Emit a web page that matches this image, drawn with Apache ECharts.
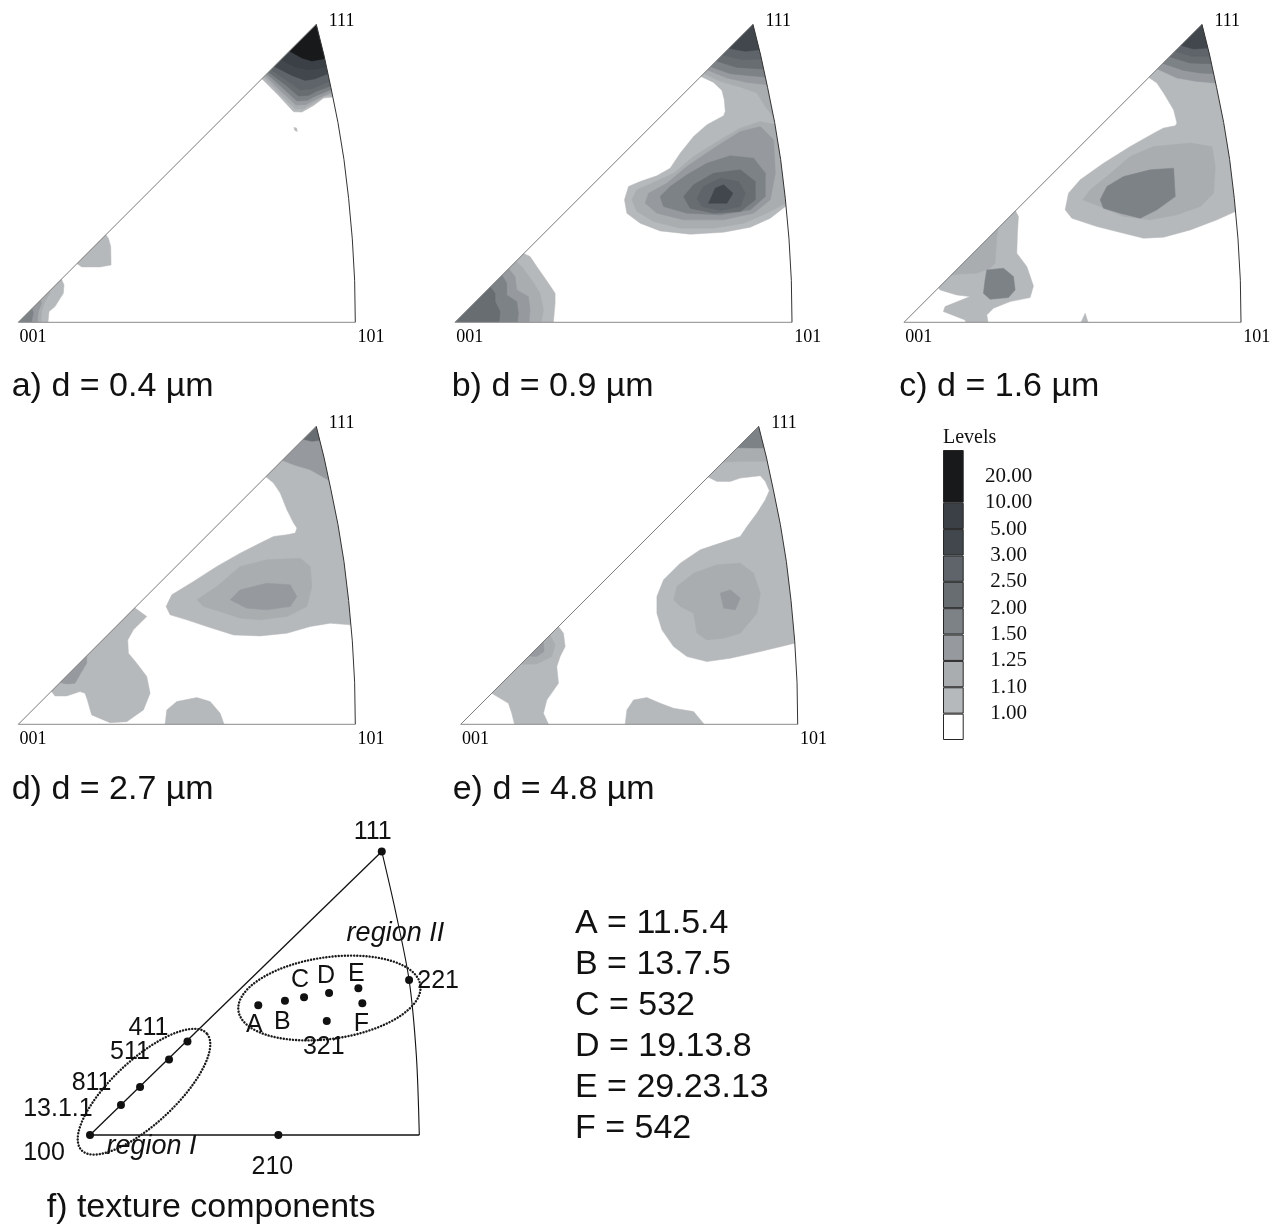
<!DOCTYPE html>
<html><head><meta charset="utf-8">
<script src="https://cdn.jsdelivr.net/npm/echarts@6/dist/echarts.min.js"></script>
<style>html,body{margin:0;padding:0;background:#fff}#c{width:1281px;height:1224px}</style>
</head><body><div id="c"></div>
<script>
// ---------------- DATA ----------------
// contour level boundaries (legend)
const levelBounds = ['1.00','1.10','1.25','1.50','2.00','2.50','3.00','5.00','10.00','20.00'];
// inverse pole figure frame, projected units (001 -> 101 = 1010)
const ipfCorners = [[0,0],[1010,0],[893,893]];
const ipfCornerLabels = ['001','101','111'];
const ipfArc = [[1010,0],[1008,126],[1001,250],[990,371],[976,488],[958,599],[937,703],[916,801],[893,893]];
const panelCaptions = ['a) d = 0.4 µm','b) d = 0.9 µm','c) d = 1.6 µm','d) d = 2.7 µm','e) d = 4.8 µm','f) texture components'];

// contour regions: [level index 1..9, polygon in projected units]
const contourA = [
  [1,[[715,745],[730,730],[780,680],[825,631],[850,630],[885,650],[915,672],[942,675],[975,675],[975,910],[880,910]]],
  [2,[[720,750],[735,735],[785,683],[830,640],[855,640],[890,660],[918,678],[941,682],[975,682],[975,910],[880,910]]],
  [3,[[725,755],[740,740],[790,690],[832,651],[860,652],[892,668],[940,690],[975,690],[975,910],[880,910]]],
  [4,[[730,760],[745,745],[795,700],[835,663],[865,665],[895,680],[938,698],[975,698],[975,910],[880,910]]],
  [5,[[735,765],[750,750],[800,712],[840,678],[870,680],[895,693],[936,708],[975,708],[975,910],[880,910]]],
  [6,[[742,772],[757,757],[805,725],[845,696],[880,700],[900,708],[933,722],[975,722],[975,910],[880,910]]],
  [7,[[752,782],[767,767],[820,740],[860,725],[890,730],[928,745],[975,745],[975,910],[880,910]]],
  [8,[[772,802],[787,787],[830,765],[870,757],[900,760],[922,768],[975,768],[975,910],[880,910]]],
  [9,[[798,828],[813,813],[850,792],[880,783],[917,790],[975,790],[975,910],[880,910]]],
  [1,[[826,584],[834,582],[836,572],[829,575]]],
  [1,[[170,180],[255,272],[270,252],[277,227],[278,172],[245,166],[190,166]]],
  [1,[[-10,0],[125,140],[137,112],[135,87],[110,47],[92,32],[87,-20],[-10,-20]]],
  [2,[[-10,0],[90,105],[95,87],[80,62],[70,32],[67,-20],[-10,-20]]],
  [3,[[-10,0],[62,77],[70,57],[60,32],[55,-20],[-10,-20]]],
  [4,[[-10,0],[38,53],[45,27],[35,-20],[-10,-20]]]
];
const contourB = [
  [1,[[722,752],[737,737],[775,719],[800,695],[807,667],[810,632],[805,619],[755,592],[715,557],[675,507],[645,462],[605,439],[555,422],[520,407],[508,367],[515,327],[555,297],[615,274],[705,264],[805,270],[885,285],[945,312],[990,347],[1030,347],[1030,910],[880,910]]],
  [2,[[731,761],[746,746],[795,722],[855,705],[905,687],[930,647],[953,617],[980,617],[980,910],[880,910]]],
  [3,[[741,771],[756,756],[815,732],[875,719],[935,712],[975,712],[975,910],[880,910]]],
  [4,[[751,781],[766,766],[825,745],[885,739],[930,735],[975,735],[975,910],[880,910]]],
  [5,[[768,798],[783,783],[845,764],[924,759],[975,759],[975,910],[880,910]]],
  [6,[[786,816],[801,801],[860,787],[918,789],[975,789],[975,910],[880,910]]],
  [7,[[806,836],[821,821],[870,812],[912,817],[975,817],[975,910],[880,910]]],
  [2,[[1030,592],[962,592],[915,602],[855,582],[795,547],[715,497],[655,447],[595,419],[545,397],[530,367],[545,332],[595,302],[675,282],[775,282],[865,297],[935,327],[990,357],[1030,357]]],
  [3,[[915,587],[955,547],[960,447],[945,367],[895,327],[805,307],[685,307],[605,327],[570,357],[580,387],[635,417],[695,467],[775,522],[855,572]]],
  [4,[[615,377],[645,407],[695,442],[755,477],[825,499],[895,492],[930,447],[930,377],[885,337],[795,322],[695,327],[625,347]]],
  [5,[[685,377],[715,412],[775,447],[855,457],[900,422],[900,367],[855,332],[775,327],[705,342]]],
  [6,[[725,372],[745,407],[795,432],[850,422],[870,387],[855,347],[795,335],[740,347]]],
  [7,[[760,357],[780,402],[805,412],[833,387],[815,357]]],
  [1,[[190,222],[206,206],[225,197],[245,167],[280,117],[300,87],[300,57],[293,-20],[-10,-20],[-10,0]]],
  [2,[[168,196],[182,182],[200,167],[230,127],[255,87],[265,37],[255,-20],[-10,-20],[-10,0]]],
  [3,[[148,174],[161,161],[180,137],[185,97],[220,77],[225,37],[220,-20],[-10,-20],[-10,0]]],
  [4,[[128,154],[141,141],[155,117],[155,82],[185,62],[190,27],[185,-20],[-10,-20],[-10,0]]],
  [5,[[93,119],[106,106],[120,87],[120,62],[135,32],[130,-20],[-10,-20],[-10,0]]]
];
const contourC = [
  [1,[[719,749],[734,734],[758,717],[778,687],[808,637],[818,597],[813,589],[778,582],[758,572],[678,527],[598,477],[528,427],[493,387],[483,337],[503,312],[578,287],[658,267],[718,252],[778,255],[858,277],[938,307],[993,332],[1030,332],[1030,910],[880,910]]],
  [3,[[744,774],[759,759],[818,732],[878,722],[934,717],[975,717],[975,910],[880,910]]],
  [4,[[761,791],[776,776],[838,755],[888,747],[928,745],[975,745],[975,910],[880,910]]],
  [5,[[781,811],[796,796],[858,777],[920,775],[975,775],[975,910],[880,910]]],
  [6,[[797,827],[812,812],[863,797],[915,797],[975,797],[975,910],[880,910]]],
  [7,[[815,845],[830,830],[868,819],[909,822],[975,822],[975,910],[880,910]]],
  [2,[[536,367],[558,397],[608,437],[678,497],[748,527],[858,537],[923,527],[933,467],[928,387],[888,347],[818,322],[738,307],[658,317],[588,347]]],
  [4,[[588,367],[608,407],[658,437],[738,457],[808,462],[813,377],[758,337],[708,312],[648,327],[598,342]]],
  [1,[[320,350],[334,334],[343,317],[340,267],[338,207],[368,167],[388,109],[378,74],[318,62],[268,42],[248,22],[256,-20],[193,-20],[183,7],[118,32],[123,47],[198,77],[158,82],[108,97],[95,115]]],
  [2,[[270,296],[283,283],[278,257],[273,177],[258,162],[218,147],[168,145],[141,141],[128,154]]],
  [4,[[248,157],[298,162],[328,137],[333,97],[313,74],[258,69],[238,87],[243,127]]],
  [1,[[526,-10],[543,27],[555,-10]]]
];
const contourD = [
  [1,[[727,757],[742,742],[765,723],[785,693],[805,643],[825,603],[835,588],[830,573],[805,568],[765,563],[725,543],[665,513],[595,473],[525,428],[460,388],[443,353],[455,328],[505,313],[565,293],[645,268],[725,265],[805,273],[875,293],[935,303],[996,298],[1030,298],[1030,910],[880,910]]],
  [3,[[776,806],[791,791],[825,778],[875,763],[928,733],[975,733],[975,910],[880,910]]],
  [5,[[840,869],[854,854],[880,848],[903,851],[975,851],[975,910],[880,910]]],
  [2,[[535,373],[595,413],[665,473],[745,493],[845,498],[875,473],[880,413],[865,353],[805,323],[725,313],[665,318],[605,338],[555,353]]],
  [3,[[635,373],[665,403],[745,423],[815,418],[835,383],[815,353],[745,343],[685,348]]],
  [1,[[335,363],[349,349],[385,323],[345,283],[328,253],[330,213],[355,183],[385,143],[395,93],[375,43],[325,8],[275,5],[220,28],[207,73],[200,93],[185,98],[145,85],[110,85],[99,99],[85,113]]],
  [3,[[130,150],[205,212],[205,183],[187,153],[170,123],[145,121],[125,125]]],
  [1,[[438,-15],[440,0],[445,43],[475,68],[535,80],[575,68],[605,33],[622,-15]]]
];
const contourE = [
  [1,[[726,756],[741,741],[768,728],[808,728],[838,738],[898,745],[913,728],[925,700],[913,673],[888,633],[858,593],[838,563],[778,543],[718,523],[658,483],[608,433],[588,383],[588,333],[603,283],[638,233],[678,203],[738,188],[808,198],[898,218],[1001,243],[1040,243],[1040,910],[880,910]]],
  [2,[[770,800],[785,785],[838,788],[917,788],[975,788],[975,910],[880,910]]],
  [4,[[815,843],[829,829],[868,828],[908,828],[975,828],[975,910],[880,910]]],
  [2,[[638,373],[648,413],[698,453],[768,478],[838,483],[878,453],[898,393],[888,333],[838,273],[788,258],[738,253],[708,273],[698,333],[658,353]]],
  [3,[[778,393],[808,403],[838,378],[823,343],[788,348]]],
  [1,[[280,306],[293,293],[308,273],[313,233],[298,203],[288,173],[293,123],[258,73],[248,33],[270,-15],[165,-15],[153,33],[143,63],[118,78],[93,93],[80,106]]],
  [2,[[255,281],[268,268],[283,238],[273,203],[228,181],[180,180],[168,192]]],
  [3,[[235,255],[248,248],[250,218],[228,203],[205,205],[198,212]]],
  [1,[[491,-15],[493,0],[498,43],[518,73],[558,80],[598,63],[638,48],[698,38],[742,-15]]]
];

// texture components panel (units: 100 -> 110 edge = 100)
const texCorners = [[0,0],[100,0],[88.6,86.1]];
const texArc = [[100,0],[99.1,24.2],[96.9,47.1],[92.8,67.8],[88.6,86.1]];
const texNames = ['100','13.1.1','811','511','411','111','221','210','A','B','C','D','E','F','321'];
const texX = [0, 9.4, 15.2, 24.0, 29.6, 88.6, 96.9, 57.2, 51.1, 59.2, 65.0, 72.6, 81.5, 82.7, 71.9];
const texY = [0, 9.1, 14.6, 22.9, 28.4, 86.1, 47.1, 0, 39.4, 40.8, 41.8, 43.1, 44.6, 40.0, 34.6];
const regionNames = ['region I','region II'];
// [centre x, centre y, semi-major, semi-minor, tilt in degrees]
const regionEllipses = [[16.4,13.15,26.0,9.7,43],[72.7,41.6,27.9,12.4,8]];
const componentKeys = ['A','B','C','D','E','F'];
const componentIndices = ['11.5.4','13.7.5','532','19.13.8','29.23.13','542'];

// ---------------- LAYOUT / STYLE ----------------
const palette = ['#ffffff','#b6b9bb','#aaadb0','#969a9e','#7d8287','#686d72','#5e6469','#41474c','#3a4045','#17191b'];
const S = 337/1010;
const origins = [[18.3,322.3],[455,322.3],[904,322.3],[18.3,724.3],[460.7,724.3]];
const EX = [-50,1080], EY = [-40,915];
const cornerOffsets = [[14.7,14.7],[15.7,14.7],[25.3,-3.3]];
const contours = [contourA, contourB, contourC, contourD, contourE];
const SERIF = '"Liberation Serif","Times New Roman",serif';
const SANS = '"Liberation Sans",Arial,sans-serif';

const grids = [], xAxes = [], yAxes = [], series = [];

origins.forEach((o, i) => {
  grids.push({left: o[0] + EX[0]*S, top: o[1] - EY[1]*S, width: (EX[1]-EX[0])*S, height: (EY[1]-EY[0])*S});
  xAxes.push({gridIndex:i, type:'value', min:EX[0], max:EX[1], show:false});
  yAxes.push({gridIndex:i, type:'value', min:EY[0], max:EY[1], show:false});
  const cs = contours[i];
  series.push({
    type:'custom', xAxisIndex:i, yAxisIndex:i, z:1, silent:true, clip:false,
    data: cs.map((c,k) => [k, c[0]]),
    renderItem: (p, api) => {
      const c = cs[p.dataIndex];
      return {type:'polygon', z2:c[0], shape:{points:c[1].map(q => api.coord(q))}, style:{fill:palette[c[0]], stroke:palette[c[0]], lineWidth:0.5}};
    }
  });
  // white mask outside the triangle
  series.push({
    type:'custom', xAxisIndex:i, yAxisIndex:i, z:2, silent:true, clip:false, data:[[0,0]],
    renderItem: (p, api) => {
      const box = [[EX[0],EY[0]],[EX[1],EY[0]],[EX[1],EY[1]],[EX[0],EY[1]],[EX[0],EY[0]]];
      const tri = [ipfCorners[0]].concat(ipfArc.slice().reverse(), [ipfCorners[0]]);
      return {type:'polygon', shape:{points: box.concat(tri).map(q => api.coord(q))}, style:{fill:'#ffffff'}};
    }
  });
  // frame
  series.push({
    type:'custom', xAxisIndex:i, yAxisIndex:i, z:3, silent:true, clip:false, data:[[0,0]],
    renderItem: (p, api) => ({type:'group', children:[
      {type:'polyline', shape:{points:[ipfCorners[0], ipfCorners[2]].map(q=>api.coord(q))}, style:{stroke:'#7a7a7a', lineWidth:1, fill:null}},
      {type:'polyline', shape:{points:[ipfCorners[0], ipfCorners[1]].map(q=>api.coord(q))}, style:{stroke:'#8a8a8a', lineWidth:1, fill:null}},
      {type:'polyline', shape:{points:ipfArc.map(q=>api.coord(q))}, style:{stroke:'#333', lineWidth:1, fill:null}}
    ]})
  });
  // corner labels
  series.push({
    type:'scatter', xAxisIndex:i, yAxisIndex:i, z:4, silent:true, symbolSize:0.1,
    itemStyle:{color:'rgba(0,0,0,0)', opacity:1},
    data: ipfCorners.map(q => q.slice()),
    label:{show:true, position:'inside', color:'#000', fontFamily:SERIF, fontSize:18,
      textBorderWidth:0, textBorderColor:'transparent',
      formatter: p => ipfCornerLabels[p.dataIndex]},
    labelLayout: p => ({dx: cornerOffsets[p.dataIndex][0], dy: cornerOffsets[p.dataIndex][1]})
  });
});

// texture panel
const FS = 3.293, FO = [90,1135], FX = [-25,115], FY = [-15,100];
grids.push({left: FO[0] + FX[0]*FS, top: FO[1] - FY[1]*FS, width:(FX[1]-FX[0])*FS, height:(FY[1]-FY[0])*FS});
xAxes.push({gridIndex:5, type:'value', min:FX[0], max:FX[1], show:false});
yAxes.push({gridIndex:5, type:'value', min:FY[0], max:FY[1], show:false});
series.push({
  type:'custom', xAxisIndex:5, yAxisIndex:5, z:3, silent:true, clip:false, data:[[0,0]],
  renderItem: (p, api) => ({type:'group', children:[
    {type:'polyline', shape:{points:[texCorners[0], texCorners[2]].map(q=>api.coord(q))}, style:{stroke:'#111', lineWidth:1.3, fill:null}},
    {type:'polyline', shape:{points:[texCorners[0], texCorners[1]].map(q=>api.coord(q))}, style:{stroke:'#111', lineWidth:1.3, fill:null}},
    {type:'polyline', shape:{points:texArc.map(q=>api.coord(q)), smooth:0.3}, style:{stroke:'#111', lineWidth:1.1, fill:null}}
  ]})
});
const regionLabelOffsets = [[7.5,55],[66,-65]];
series.push({
  type:'custom', xAxisIndex:5, yAxisIndex:5, z:3, silent:true, clip:false,
  data: regionEllipses.map(e => [e[0], e[1]]),
  renderItem: (p, api) => {
    const e = regionEllipses[p.dataIndex];
    const th = e[4]*Math.PI/180, pts = [];
    for (let k = 0; k <= 120; k++) {
      const t = k/120*2*Math.PI;
      pts.push(api.coord([e[0] + e[2]*Math.cos(th)*Math.cos(t) - e[3]*Math.sin(th)*Math.sin(t),
                          e[1] + e[2]*Math.sin(th)*Math.cos(t) + e[3]*Math.cos(th)*Math.sin(t)]));
    }
    const c = api.coord([e[0], e[1]]);
    const off = regionLabelOffsets[p.dataIndex];
    return {type:'group', children:[
      {type:'polyline', shape:{points:pts}, style:{stroke:'#1a1a1a', lineWidth:2.4, lineDash:[0.1,3], lineCap:'round', fill:null}},
      {type:'text', x:c[0]+off[0], y:c[1]+off[1], style:{text:regionNames[p.dataIndex], fill:'#111', font:'italic 27px ' + SANS, align:'center', verticalAlign:'middle'}}
    ]};
  }
});
const texLabelOffsets = {
  '100':[-46,18], '13.1.1':[-63,4], '811':[-48.5,-4], '511':[-39,-7], '411':[-39,-13.5],
  '111':[-9,-19], '221':[29,1], '210':[-6,32], 'A':[-4,20], 'B':[-2.5,21], 'C':[-4,-17],
  'D':[-3,-17], 'E':[-2,-14], 'F':[-1,21], '321':[-3,26]
};
series.push({
  type:'scatter', xAxisIndex:5, yAxisIndex:5, z:4, silent:true, symbolSize:8,
  itemStyle:{color:'#111', opacity:1},
  data: texX.map((x,k) => [x, texY[k]]),
  label:{show:true, position:'inside', color:'#111', fontFamily:SANS, fontSize:25,
    textBorderWidth:0, textBorderColor:'transparent',
    formatter: p => texNames[p.dataIndex]},
  labelLayout: p => { const o = texLabelOffsets[texNames[p.dataIndex]]; return {dx:o[0], dy:o[1]}; }
});

// levels legend (stacked bar)
grids.push({left:943, top:450, width:20.7, height:290});
xAxes.push({gridIndex:6, type:'category', data:['Levels'], show:false});
yAxes.push({gridIndex:6, type:'value', min:0, max:11, interval:1, position:'right',
  axisLine:{show:false}, axisTick:{show:false}, splitLine:{show:false},
  axisLabel:{show:true, margin:45, align:'center', color:'#111', fontFamily:SERIF, fontSize:21,
    formatter: v => (v >= 1 && v <= levelBounds.length) ? levelBounds[v-1] : ''}});
palette.forEach((col, k) => {
  series.push({type:'bar', xAxisIndex:6, yAxisIndex:6, stack:'lv', barWidth:'100%', silent:true, z:2,
    data:[k === palette.length-1 ? 2 : 1],
    itemStyle:{color:col, borderColor:'#262626', borderWidth:1}});
});

// captions
const capPos = [[11.7,369.5],[451.7,369.5],[899.3,369.5],[11.7,773],[452.7,773],[46.7,1190.5]];
const titles = panelCaptions.map((t,k) => ({text:t, left:capPos[k][0], top:capPos[k][1], padding:0,
  textStyle:{fontFamily:SANS, fontSize:34, fontWeight:'normal', color:'#111', lineHeight:34}}));
titles.push({text:'Levels', left:943, top:428, padding:0,
  textStyle:{fontFamily:SERIF, fontSize:20, fontWeight:'normal', color:'#111', lineHeight:20}});
titles.push({text: componentKeys.map((k,i) => k + ' = ' + componentIndices[i]).join('\n'), left:575, top:903, padding:0,
  textStyle:{fontFamily:SANS, fontSize:34, fontWeight:'normal', color:'#111', lineHeight:41}});

const chart = echarts.init(document.getElementById('c'), null, {renderer:'canvas'});
chart.setOption({
  animation:false, backgroundColor:'#ffffff',
  title: titles, grid: grids, xAxis: xAxes, yAxis: yAxes, series: series, tooltip:{show:false}
});
</script></body></html>
